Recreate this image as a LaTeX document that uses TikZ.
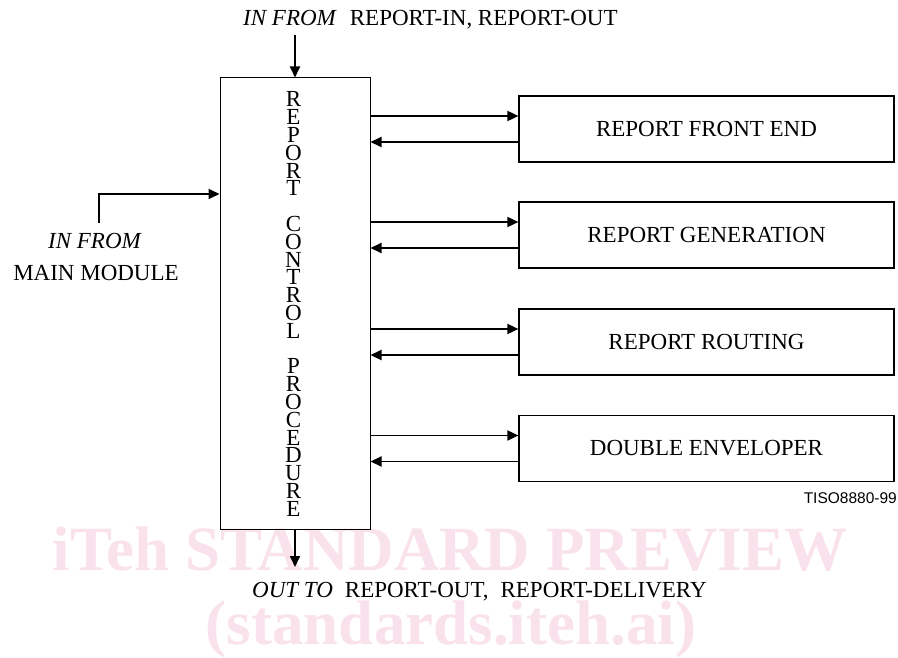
\documentclass[tikz,border=0pt]{standalone}
\usepackage{fontspec}
\setmainfont{Liberation Serif}
\newfontfamily\arialfont{Liberation Sans}
\usetikzlibrary{arrows.meta}
\definecolor{wm}{RGB}{249,226,235}
\begin{document}
\begin{tikzpicture}[x=1pt,y=-1pt,
  arr/.style={line width=1.8pt,-{Triangle[length=11pt,width=10pt]}},
  boxr/.style={draw,line width=1.2pt,minimum width=375pt,minimum height=66pt,inner sep=0pt,font=\fontsize{23}{27}\selectfont},
  lbl/.style={font=\fontsize{23}{27}\selectfont,inner sep=0pt},
  wmtext/.style={text=wm,font=\fontsize{63}{70}\selectfont\bfseries,inner sep=0pt}]
\useasboundingbox (0,0) rectangle (898,658);
% watermark
\node[wmtext,anchor=base] (wm1) at (450,570) {iTeh STANDARD PREVIEW};
\node[wmtext,anchor=base] (wm2) at (451,644) {(standards.iteh.ai)};
% main box
\node[draw,line width=1pt,minimum width=150pt,minimum height=451pt,inner sep=0pt] (main) at (295,303.5) {};
\node[align=center,inner sep=0pt,font=\fontsize{23}{17.8}\selectfont] (vt) at (293.5,304)
  {R\\E\\P\\O\\R\\T\\[17.8pt]C\\O\\N\\T\\R\\O\\L\\[17.8pt]P\\R\\O\\C\\E\\D\\U\\R\\E};
% right boxes
\node[boxr] (b1) at (706.5,129) {REPORT FRONT END};
\node[boxr] (b2) at (706.5,235) {REPORT GENERATION};
\node[boxr] (b3) at (706.5,342) {REPORT ROUTING};
\node[boxr] (b4) at (706.5,448.5) {DOUBLE ENVELOPER};
\foreach \b in {b1,b2,b3,b4}{
  \coordinate (o\b) at ([yshift=13pt]\b.west);
  \coordinate (r\b) at ([yshift=-13pt]\b.west);
  \draw[arr] (o\b -| main.east) -- (o\b);
  \draw[arr] (r\b) -- (r\b -| main.east);
}
% top input
\node[lbl,anchor=base west] (toptxt) at (243,26) {\textit{IN FROM}\hspace*{13pt}REPORT-IN, REPORT-OUT};
\coordinate (topstart) at (295,35);
\draw[arr] (topstart) -- (main.north);
% left input
\node[lbl,anchor=base] (lt1) at (95,249) {\textit{IN FROM}};
\node[lbl,anchor=base] (lt2) at (96,280) {MAIN MODULE};
\coordinate (lstart) at (99,223);
\coordinate (lturn) at (99,194);
\draw[arr] (lstart) -- (lturn) -- (lturn -| main.west);
% bottom output
\coordinate (bend) at (295,567);
\draw[arr] (main.south) -- (bend);
\node[lbl,anchor=base west] (bottxt) at (252,597) {\textit{OUT TO}\hspace*{12pt}REPORT-OUT,\hspace*{12pt}REPORT-DELIVERY};
% figure id
\node[font=\arialfont\fontsize{15.5}{18}\selectfont,anchor=base east,inner sep=0pt] (tiso) at (897,503) {TISO8880-99};
\end{tikzpicture}
\end{document}
